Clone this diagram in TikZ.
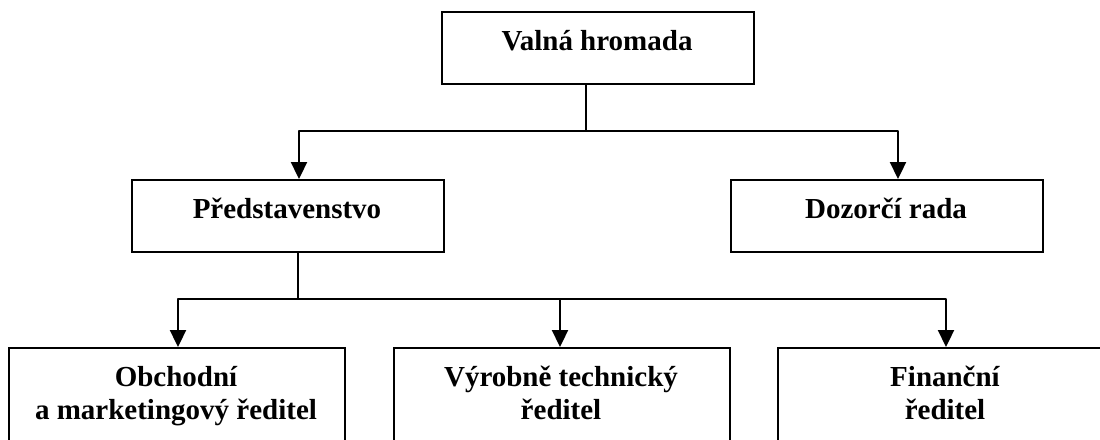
\documentclass[tikz,border=0pt]{standalone}
\usepackage{fontspec}
\setmainfont{Liberation Serif}
\usetikzlibrary{arrows.meta}
\begin{document}
\begin{tikzpicture}[x=1pt,y=-1pt,
  box/.style={draw, line width=2.3pt, rectangle, inner sep=0pt, anchor=north west},
  topbox/.style={box, minimum width=312pt, minimum height=72pt},
  lowbox/.style={box, minimum width=336pt, minimum height=110pt},
  lbl/.style={anchor=base, inner sep=0pt, font=\fontsize{29}{33}\selectfont\bfseries},
  link/.style={line width=2.3pt, line join=round},
  arr/.style={link, -{Triangle[width=16pt,length=17pt]}}]
\useasboundingbox (0,0) rectangle (1100,439);
\clip (0,0) rectangle (1100,439);

% boxes
\node[topbox] (vh) at (441,11) {};
\node[topbox] (pr) at (131,179) {};
\node[topbox] (dr) at (730,179) {};
\node[lowbox] (ob) at (8,347) {};
\node[lowbox] (vt) at (393,347) {};
\node[lowbox] (fi) at (777,347) {};

% labels
\node[lbl] (vht) at (597,50) {Valná hromada};
\node[lbl] (prt) at (287,218) {Představenstvo};
\node[lbl] (drt) at (886,218) {Dozorčí rada};
\node[lbl] (obt) at (176,386) {\begin{tabular}[t]{@{}c@{}}Obchodní\\a marketingový ředitel\end{tabular}};
\node[lbl] (vtt) at (561,386) {\begin{tabular}[t]{@{}c@{}}Výrobně technický\\ředitel\end{tabular}};
\node[lbl] (fit) at (945,386) {\begin{tabular}[t]{@{}c@{}}Finanční\\ředitel\end{tabular}};

% junction points
\coordinate (j1) at (586,131);
\coordinate (pa) at (299,131);
\coordinate (da) at (898,131);
\coordinate (j2) at (298,299);
\coordinate (oa) at (178,299);
\coordinate (va) at (560,299);
\coordinate (fa) at (946,299);

% upper level
\draw[link] (vh.south -| j1) -- (j1);
\draw[arr] (j1) -- (pa) -- (pa |- pr.north);
\draw[arr] (j1) -- (da) -- (da |- dr.north);

% lower level
\draw[link] (pr.south -| j2) -- (j2);
\draw[arr] (j2) -- (oa) -- (oa |- ob.north);
\draw[arr] (j2) -- (fa) -- (fa |- fi.north);
\draw[arr] (va) -- (va |- vt.north);
\end{tikzpicture}
\end{document}
